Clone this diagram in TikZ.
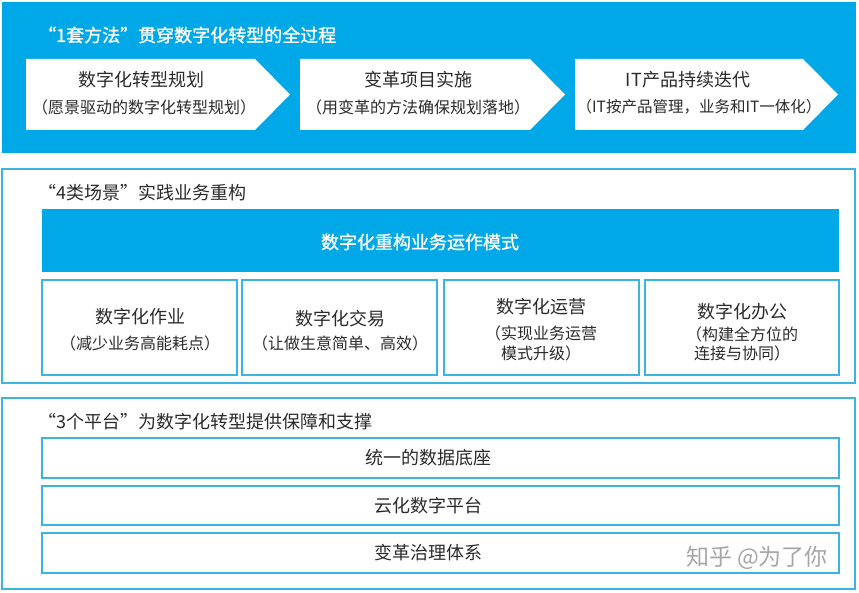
\documentclass[tikz,border=0pt]{standalone}
\usepackage{fontspec}
\setmainfont{Noto Sans CJK SC}
\newfontfamily\boldcjk{Noto Sans CJK SC}[FakeBold=1.2]
\definecolor{tblue}{HTML}{00A8E8}
\definecolor{lblue}{HTML}{3BB4E0}
\definecolor{txt}{HTML}{2A2A2A}
\begin{document}
\begin{tikzpicture}[x=1pt,y=-1pt,
  every node/.style={inner sep=0pt, text=txt},
  hd/.style={anchor=west, font=\fontsize{18}{21}\selectfont},
  whd/.style={anchor=west, text=white, font=\boldcjk\fontsize{18}{21}\selectfont},
  ttl/.style={font=\fontsize{18}{22}\selectfont},
  sub/.style={font=\fontsize{16}{19}\selectfont},
  frame/.style={draw=lblue, line width=1.5pt},
  boxline/.style={draw=lblue, line width=1.6pt},
  arrowshape/.style={fill=white}]
\useasboundingbox (0,0) rectangle (859,593);
% ---------- section 1 ----------
\fill[tblue] (2,2) rectangle (856,153);
\node[whd] (t1) at (38,35) {“1套方法”贯穿数字化转型的全过程};
\fill[arrowshape] (26,59) -- (255,59) -- (290,94.5) -- (255,130) -- (26,130) -- cycle;
\fill[arrowshape] (300,59) -- (530,59) -- (565,94.5) -- (530,130) -- (300,130) -- cycle;
\fill[arrowshape] (575,59) -- (803,59) -- (838,94.5) -- (803,130) -- (575,130) -- cycle;
\node[ttl] (a1t) at (141,80) {数字化转型规划};
\node[sub] (a1s) at (144,107) {（愿景驱动的数字化转型规划）};
\node[ttl] (a2t) at (418,80) {变革项目实施};
\node[sub] (a2s) at (418,107) {（用变革的方法确保规划落地）};
\node[ttl] (a3t) at (688,80) {IT产品持续迭代};
\node[sub, font=\fontsize{15.5}{19}\selectfont] (a3s) at (699,107) {（IT按产品管理，业务和IT一体化）};
% ---------- section 2 ----------
\draw[frame] (2,169) rectangle (855,383);
\node[hd] (t2) at (38,193) {“4类场景”实践业务重构};
\fill[tblue] (42,209) rectangle (839,272);
\node[text=white, font=\boldcjk\fontsize{18}{22}\selectfont] (mid) at (420,242) {数字化重构业务运作模式};
\draw[boxline] (42,280) rectangle (237,375);
\draw[boxline] (242,280) rectangle (437,375);
\draw[boxline] (444,280) rectangle (639,375);
\draw[boxline] (645,280) rectangle (839,375);
\node[ttl] (b1t) at (140,317) {数字化作业};
\node[sub] (b1s) at (140,343) {（减少业务高能耗点）};
\node[ttl] (b2t) at (340,319) {数字化交易};
\node[sub] (b2s) at (340,343) {（让做生意简单、高效）};
\node[ttl] (b3t) at (541,307) {数字化运营};
\node[sub] (b3s) at (541,333) {（实现业务运营};
\node[sub] (b3u) at (541,353) {模式升级）};
\node[ttl] (b4t) at (742,312) {数字化办公};
\node[sub] (b4s) at (742,334) {（构建全方位的};
\node[sub] (b4u) at (742,353) {连接与协同）};
% ---------- section 3 ----------
\draw[frame] (2,398) rectangle (855,589);
\node[hd] (t3) at (38,422) {“3个平台”为数字化转型提供保障和支撑};
\draw[boxline] (42,438) rectangle (839,478);
\draw[boxline] (42,486) rectangle (839,525);
\draw[boxline] (42,533) rectangle (839,573);
\node[ttl] (p1) at (428,458) {统一的数据底座};
\node[ttl] (p2) at (428,505.5) {云化数字平台};
\node[ttl] (p3) at (428,553) {变革治理体系};
\node[text=black!35, font=\fontsize{23}{26}\selectfont] (wm) at (757,558) {知乎 @为了你};
\end{tikzpicture}
\end{document}
